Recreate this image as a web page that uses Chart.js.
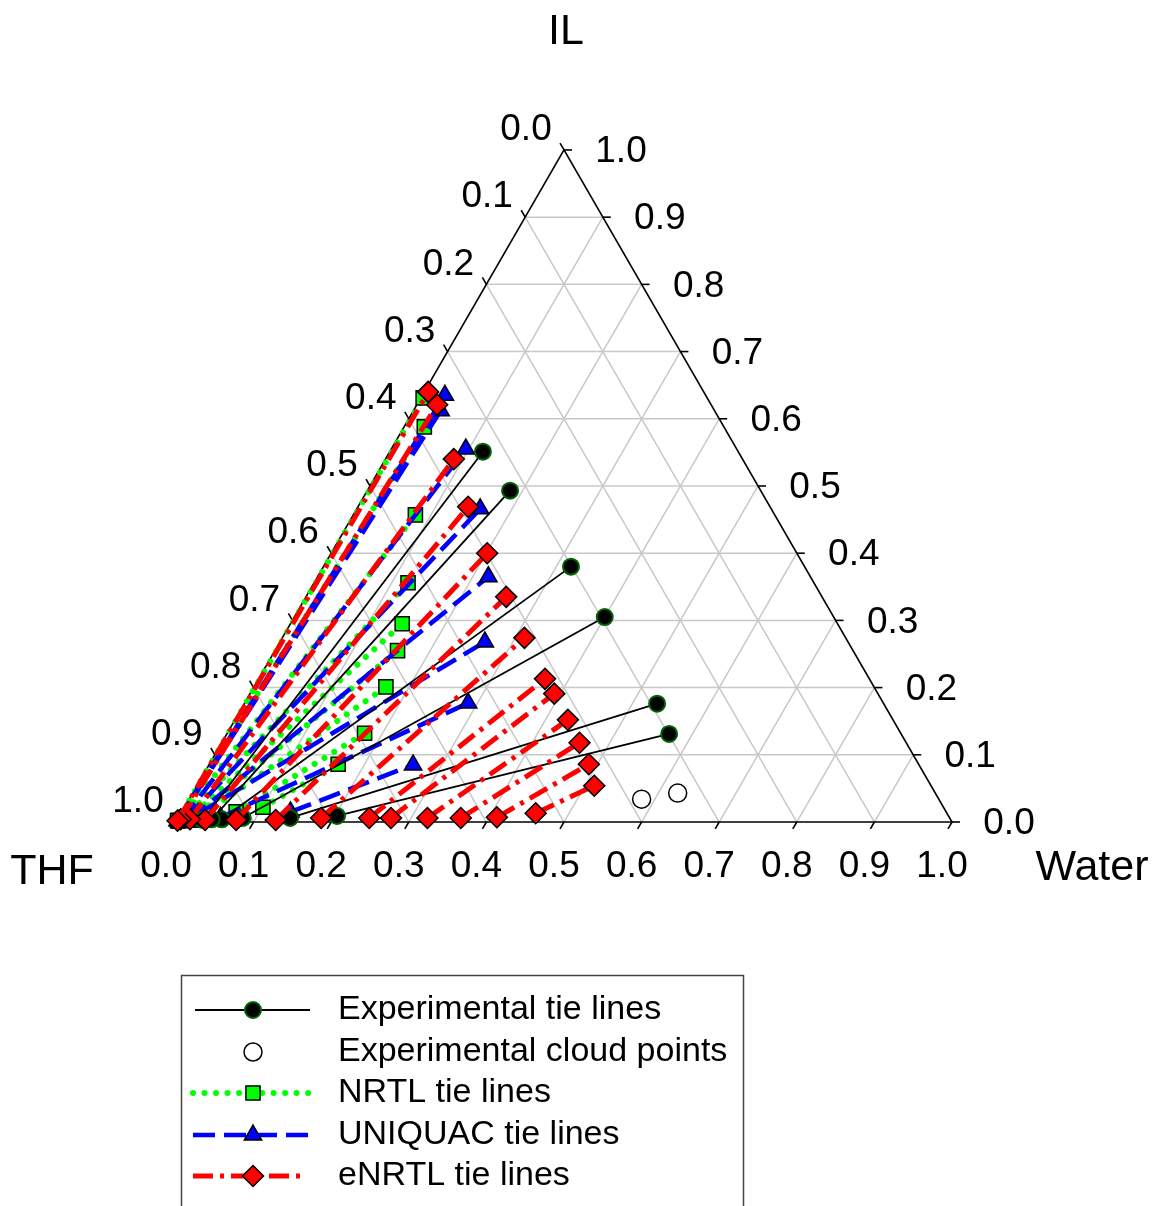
<!DOCTYPE html>
<html><head><meta charset="utf-8">
<script src="https://cdn.jsdelivr.net/npm/chart.js@4.4.1/dist/chart.umd.min.js"></script>
<style>html,body{margin:0;padding:0;background:#fff;overflow:hidden;}canvas{display:block;}</style>
</head><body><canvas id="c" width="1153" height="1206" style="width:1153px;height:1206px"></canvas>
<script>
// ---------- DATA (mole fractions: water, IL; THF = 1 - water - IL) ----------
const tickLabels = ['0.0','0.1','0.2','0.3','0.4','0.5','0.6','0.7','0.8','0.9','1.0'];
const tickValues = [0,0.1,0.2,0.3,0.4,0.5,0.6,0.7,0.8,0.9,1.0];
const vertexNames = ['IL','THF','Water'];
const legendLabels = ['Experimental tie lines','Experimental cloud points','NRTL tie lines','UNIQUAC tie lines','eNRTL tie lines'];

// Experimental tie lines
const expIlPhaseW  = [0.120,0.184,0.319,0.400,0.532,0.570];
const expIlPhaseIL = [0.551,0.493,0.380,0.305,0.176,0.131];
const expThfPhaseW  = [0.033,0.044,0.057,0.083,0.144,0.203];
const expThfPhaseIL = [0.003,0.004,0.004,0.006,0.006,0.009];

// Experimental cloud points
const cloudW  = [0.583,0.625];
const cloudIL = [0.034,0.043];

// NRTL tie lines
const nrtlIlPhaseW  = [0.003,0.026,0.080,0.121,0.144,0.158,0.170,0.177,0.166];
const nrtlIlPhaseIL = [0.631,0.588,0.457,0.356,0.295,0.255,0.201,0.132,0.086];
const nrtlThfPhaseW  = [0.001,0.002,0.004,0.008,0.013,0.018,0.024,0.070,0.101];
const nrtlThfPhaseIL = [0.002,0.002,0.002,0.003,0.003,0.003,0.003,0.015,0.022];

// UNIQUAC tie lines
const uniqIlPhaseW  = [0.029,0.035,0.096,0.159,0.220,0.264,0.288,0.263];
const uniqIlPhaseIL = [0.635,0.612,0.555,0.466,0.365,0.268,0.177,0.085];
const uniqThfPhaseW  = [0.001,0.002,0.006,0.010,0.015,0.022,0.054,0.140];
const uniqThfPhaseIL = [0.002,0.002,0.002,0.003,0.003,0.012,0.007,0.015];

// eNRTL tie lines
const enrtlIlPhaseW  = [0.005,0.026,0.088,0.142,0.201,0.258,0.312,0.369,0.392,0.429,0.461,0.489,0.512];
const enrtlIlPhaseIL = [0.640,0.621,0.540,0.469,0.400,0.335,0.274,0.213,0.191,0.152,0.118,0.086,0.054];
const enrtlThfPhaseW  = [0.001,0.004,0.016,0.036,0.076,0.127,0.184,0.246,0.274,0.321,0.364,0.410,0.457];
const enrtlThfPhaseIL = [0.002,0.004,0.004,0.003,0.003,0.003,0.006,0.006,0.006,0.006,0.006,0.007,0.013];

// ---------- ternary -> cartesian ----------
const H = Math.sqrt(3)/2;
function toXY(w, il){ return {x: w + il/2, y: il*H}; }

const FONT = '"Liberation Sans", Arial, Helvetica, sans-serif';

const styles = {
  exp:   {showLine:true, borderColor:'#000', borderWidth:1.8, pointStyle:'circle', pointRadius:8, pointBackgroundColor:'#000', pointBorderColor:'#006400', pointBorderWidth:2, order:2},
  nrtl:  {showLine:true, borderColor:'#00ff00', borderWidth:6, borderDash:[0.01,11.5], borderCapStyle:'round', pointStyle:'rect', pointRadius:10, pointBackgroundColor:'#00ff00', pointBorderColor:'#000', pointBorderWidth:1.5, order:4},
  uniq:  {showLine:true, borderColor:'#0000ff', borderWidth:4.5, borderDash:[22,9], pointStyle:'triangle', pointRadius:10, pointBackgroundColor:'#0000ff', pointBorderColor:'#000', pointBorderWidth:1.5, order:3},
  enrtl: {showLine:true, borderColor:'#ff0000', borderWidth:5, borderDash:[20,7,4,7], pointStyle:'rectRot', pointRadius:10.5, pointBackgroundColor:'#ff0000', pointBorderColor:'#000', pointBorderWidth:1.5, order:0},
  cloud: {showLine:false, pointStyle:'circle', pointRadius:9, pointBackgroundColor:'#fff', pointBorderColor:'#000', pointBorderWidth:1.5, order:1}
};

function tieSets(wA, ilA, wB, ilB, st){
  return wA.map((_,k)=>Object.assign({clip:false, data:[toXY(wB[k],ilB[k]), toXY(wA[k],ilA[k])]}, st));
}

const datasets = [].concat(
  tieSets(enrtlIlPhaseW, enrtlIlPhaseIL, enrtlThfPhaseW, enrtlThfPhaseIL, styles.enrtl),
  [Object.assign({clip:false, data: cloudW.map((w,k)=>toXY(w,cloudIL[k]))}, styles.cloud)],
  tieSets(expIlPhaseW, expIlPhaseIL, expThfPhaseW, expThfPhaseIL, styles.exp),
  tieSets(uniqIlPhaseW, uniqIlPhaseIL, uniqThfPhaseW, uniqThfPhaseIL, styles.uniq),
  tieSets(nrtlIlPhaseW, nrtlIlPhaseIL, nrtlThfPhaseW, nrtlThfPhaseIL, styles.nrtl)
);

// scale ranges chosen so that the triangle side spans 776 px
const SIDE = 776, X0 = 176, Y0 = 822, W = 1153, HT = 1206;
const XMIN = -X0/SIDE, XMAX = (W-X0)/SIDE;
const YMAX = Y0/SIDE, YMIN = (Y0-HT)/SIDE;

function marker(ctx, style, x, y, r){
  ctx.beginPath();
  if (style==='circle'){ ctx.arc(x,y,r,0,Math.PI*2); }
  else if (style==='rect'){ const s=r*Math.SQRT1_2; ctx.rect(x-s,y-s,2*s,2*s); }
  else if (style==='rectRot'){ ctx.moveTo(x,y-r); ctx.lineTo(x+r,y); ctx.lineTo(x,y+r); ctx.lineTo(x-r,y); ctx.closePath(); }
  else if (style==='triangle'){ for(let k=0;k<3;k++){ const a=k*2*Math.PI/3; const px=x+Math.sin(a)*r, py=y-Math.cos(a)*r; k?ctx.lineTo(px,py):ctx.moveTo(px,py);} ctx.closePath(); }
  ctx.fill(); ctx.stroke();
}

const ternaryPlugin = {
  id:'ternary',
  beforeDatasetsDraw(chart){
    const {ctx} = chart; const sx = chart.scales.x, sy = chart.scales.y;
    const P = (w,il)=>{ const q=toXY(w,il); return [sx.getPixelForValue(q.x), sy.getPixelForValue(q.y)]; };
    const seg = (a,b)=>{ ctx.beginPath(); ctx.moveTo(a[0],a[1]); ctx.lineTo(b[0],b[1]); ctx.stroke(); };
    ctx.save();
    ctx.strokeStyle = '#c8c8c8'; ctx.lineWidth = 1.5;
    tickValues.forEach(v=>{
      if (v<=0 || v>=1) return;
      seg(P(0,v), P(1-v,v));      // constant IL
      seg(P(v,0), P(v,1-v));      // constant water
      seg(P(1-v,0), P(0,1-v));    // constant THF
    });
    ctx.strokeStyle = '#000'; ctx.lineWidth = 1.6;
    ctx.beginPath(); const a=P(0,0), b=P(1,0), c=P(0,1);
    ctx.moveTo(a[0],a[1]); ctx.lineTo(b[0],b[1]); ctx.lineTo(c[0],c[1]); ctx.closePath(); ctx.stroke();
    const L = 8;
    tickValues.forEach(v=>{
      const pb = P(v,0); seg(pb, [pb[0]-0.5*L, pb[1]+H*L]);
      const pl = P(0,1-v); seg(pl, [pl[0]-0.5*L, pl[1]-H*L]);
      const pr = P(1-v,v); seg(pr, [pr[0]+L, pr[1]]);
    });
    ctx.restore();
  },
  afterDraw(chart){
    const {ctx} = chart; const sx = chart.scales.x, sy = chart.scales.y;
    const P = (w,il)=>{ const q=toXY(w,il); return [sx.getPixelForValue(q.x), sy.getPixelForValue(q.y)]; };
    ctx.save();
    ctx.fillStyle = '#000'; ctx.textAlign='center'; ctx.textBaseline='middle';
    ctx.font = '37px '+FONT;
    tickValues.forEach((v,k)=>{
      const pb = P(v,0); ctx.fillText(tickLabels[k], pb[0]-10, pb[1]+45);
      const pl = P(0,1-v); ctx.fillText(tickLabels[k], pl[0]-38, pl[1]-20);
      const pr = P(1-v,v); ctx.fillText(tickLabels[k], pr[0]+57, pr[1]+2);
    });
    ctx.font = '43px '+FONT;
    const top = P(0,1), lft = P(0,0), rgt = P(1,0);
    ctx.fillText(vertexNames[0], top[0]+2, top[1]-118);
    ctx.fillText(vertexNames[1], lft[0]-124, lft[1]+50);
    ctx.fillText(vertexNames[2], rgt[0]+140, rgt[1]+46);

    // legend
    ctx.strokeStyle = '#444'; ctx.lineWidth = 1.5;
    ctx.strokeRect(181.5, 975.5, 562, 260);
    const rows = [1010,1052,1093,1135,1176];
    const keys = ['exp','cloud','nrtl','uniq','enrtl'];
    const lineEnds = [[195,310],null,[193,310],[193,310],[193,300]];
    ctx.font = '34px '+FONT; ctx.textAlign='left';
    keys.forEach((k,i)=>{
      const st = styles[k], y = rows[i];
      if (lineEnds[i]){
        ctx.save();
        ctx.strokeStyle = st.borderColor; ctx.lineWidth = st.borderWidth;
        ctx.lineCap = st.borderCapStyle || 'butt';
        ctx.setLineDash(st.borderDash || []);
        ctx.beginPath(); ctx.moveTo(lineEnds[i][0], y); ctx.lineTo(lineEnds[i][1], y); ctx.stroke();
        ctx.restore();
      }
      ctx.save();
      ctx.fillStyle = st.pointBackgroundColor; ctx.strokeStyle = st.pointBorderColor; ctx.lineWidth = st.pointBorderWidth;
      marker(ctx, st.pointStyle, 253, y, st.pointRadius);
      ctx.restore();
      ctx.fillStyle = '#000';
      ctx.fillText(legendLabels[i], 338, y);
    });
    ctx.restore();
  }
};

new Chart(document.getElementById('c'), {
  type:'scatter',
  data:{datasets},
  options:{
    responsive:false, maintainAspectRatio:false, animation:false, events:[],
    devicePixelRatio:1,
    layout:{padding:0, autoPadding:false},
    plugins:{legend:{display:false}, tooltip:{enabled:false}},
    scales:{
      x:{type:'linear', min:XMIN, max:XMAX, display:false},
      y:{type:'linear', min:YMIN, max:YMAX, display:false}
    }
  },
  plugins:[ternaryPlugin]
});
</script></body></html>
